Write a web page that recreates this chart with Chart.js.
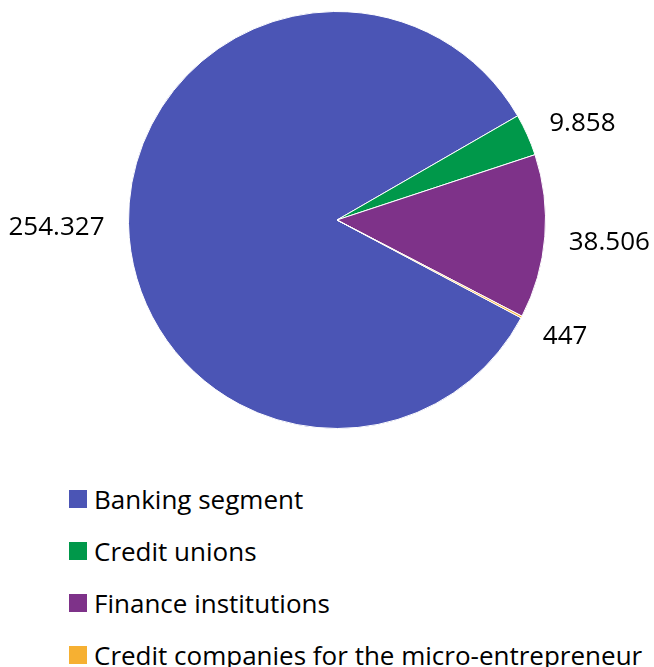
<!DOCTYPE html>
<html>
<head>
<meta charset="utf-8">
<script src="https://cdn.jsdelivr.net/npm/chart.js@4"></script>
<style>
  body { margin: 0; background: #fff; }
  #wrap { position: relative; width: 654px; height: 667px; overflow: hidden; }
  #chart1 { position: absolute; left: 0; top: 0; }
  #legend { position: absolute; left: 69px; top: 473px; font-family: 'Open Sans', sans-serif; font-size: 26px; color: #000; white-space: nowrap; }
  .item { height: 52px; display: flex; align-items: center; }
  .box { width: 18px; height: 18px; margin-right: 7px; flex: none; }
</style>
</head>
<body>
<div id="wrap">
  <canvas id="chart1" width="654" height="440"></canvas>
  <div id="legend"></div>
</div>
<script>
const categories = ['Banking segment', 'Credit unions', 'Finance institutions', 'Credit companies for the micro-entrepreneur'];
const values = [254327, 9858, 38506, 447];
const valueLabels = ['254.327', '9.858', '38.506', '447'];
const colors = ['#4b55b5', '#00984a', '#7e3289', '#f6b032'];

const chart1 = document.querySelector('#chart1');
const legendBox = document.querySelector('#legend');

// labels outside the slices, placed along the middle angle of each arc
const outsideLabels = {
    id: 'outsideLabels',
    afterDatasetsDraw(chart) {
        const ctx = chart.ctx;
        const arcs = chart.getDatasetMeta(0).data;
        ctx.save();
        ctx.font = '26px "Open Sans", sans-serif';
        ctx.fillStyle = '#000';
        ctx.textBaseline = 'middle';
        arcs.forEach((arc, i) => {
            const mid = (arc.startAngle + arc.endAngle) / 2;
            const ux = Math.cos(mid);
            const uy = Math.sin(mid);
            const r = arc.outerRadius + 24;
            const x = arc.x + ux * r;
            const y = arc.y + uy * r + uy * 12 + 3;
            ctx.textAlign = ux >= 0 ? 'left' : 'right';
            ctx.fillText(valueLabels[i], x, y);
        });
        ctx.restore();
    }
};

const data = {
    labels: categories,
    datasets: [{
        data: values,
        backgroundColor: colors,
        borderColor: '#fff',
        borderWidth: 1,
    }]
};

const config = {
    type: 'pie',
    data: data,
    options: {
        responsive: false,
        animation: false,
        rotation: 118,
        layout: { padding: { left: 128, right: 108, top: 11, bottom: 11 } },
        plugins: {
            legend: { display: false },
            tooltip: { enabled: false },
        }
    },
    plugins: [outsideLabels]
};

new Chart(chart1, config);

categories.forEach((name, i) => {
    const div = document.createElement('div');
    div.className = 'item';
    div.innerHTML = `<span class="box" style="background:${colors[i]}"></span><span>${name}</span>`;
    legendBox.appendChild(div);
});
</script>
</body>
</html>
